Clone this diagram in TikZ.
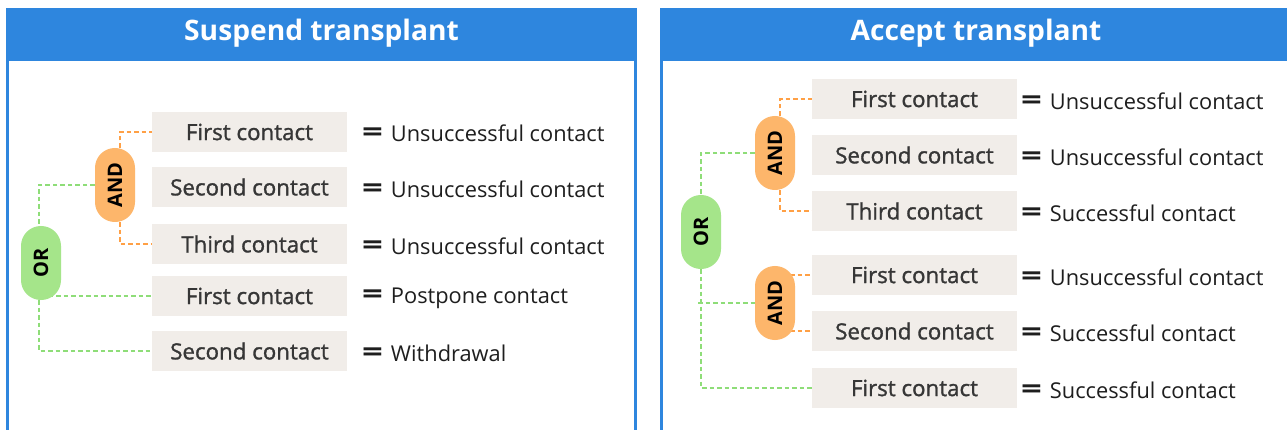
\documentclass[tikz,border=0pt]{standalone}
\usepackage{fontspec}
\setmainfont{Open Sans}
\newfontfamily\semifont[FakeBold=1.3]{Open Sans}
\pgfdeclarelayer{back}
\pgfdeclarelayer{background}
\pgfsetlayers{back,background,main}

\definecolor{panelblue}{HTML}{2E86DE}
\definecolor{boxfill}{HTML}{F1EDE9}
\definecolor{andfill}{HTML}{FDB66B}
\definecolor{orfill}{HTML}{A5E58A}
\definecolor{andline}{HTML}{FFA045}
\definecolor{orline}{HTML}{8EDD78}
\definecolor{boxtext}{HTML}{363636}
\definecolor{restext}{HTML}{1E1E1E}

\tikzset{
  panel/.style={draw=panelblue, line width=3pt, fill=white},
  header/.style={fill=panelblue},
  title/.style={text=white, font=\bfseries\fontsize{28.2}{32}\selectfont},
  cbox/.style={fill=boxfill, minimum width=195pt, minimum height=40pt, inner sep=0pt,
    text=boxtext, font=\semifont\fontsize{22.3}{24}\selectfont},
  wbox/.style={cbox, minimum width=205pt},
  res/.style={anchor=west, inner sep=0pt, text=restext, font=\fontsize{21.8}{24}\selectfont},
  pill/.style={minimum width=40pt, minimum height=74pt, inner sep=0pt,
    rounded corners=19.9pt, font=\bfseries\fontsize{20}{22}\selectfont, text=black},
  andpill/.style={pill, fill=andfill},
  orpill/.style={pill, fill=orfill},
  odash/.style={draw=andline, line width=1.3pt, dash pattern=on 4.5pt off 3pt},
  gdash/.style={draw=orline, line width=1.3pt, dash pattern=on 4.5pt off 3pt},
}
\newcommand{\eqres}[1]{\raisebox{-0.5pt}{\scalebox{1.4}[1.05]{\bfseries\fontsize{26}{26}\selectfont =}}\hspace{8pt}#1}

\begin{document}
\begin{tikzpicture}[x=1pt, y=-1pt]
\useasboundingbox (0,0) rectangle (1287,430);
\clip (0,0) rectangle (1287,430);

% ---- panels ----
\begin{pgfonlayer}{back}
\draw[panel] (7.5,9.5) rectangle (635.5,445);
\fill[header] (6,8) rectangle (637,61);
\draw[panel] (661.5,9.5) rectangle (1295,445);
\fill[header] (660,8) rectangle (1297,61);
\end{pgfonlayer}
\node[title] (ltitle) at (321.5,33) {Suspend transplant};
\node[title] (rtitle) at (976,33) {Accept transplant};

% ---- left panel: suspend ----
\node[cbox] (l1) at (249.5,132) {First contact};
\node[cbox] (l2) at (249.5,187) {Second contact};
\node[cbox] (l3) at (249.5,244) {Third contact};
\node[cbox] (l4) at (249.5,296) {First contact};
\node[cbox] (l5) at (249.5,351) {Second contact};

\node[res] (lr1) at (362,133) {\eqres{Unsuccessful contact}};
\node[res] (lr2) at (362,189) {\eqres{Unsuccessful contact}};
\node[res] (lr3) at (362,246) {\eqres{Unsuccessful contact}};
\node[res] (lr4) at (362,298) {\eqres{Postpone contact}};
\node[res] (lr5) at (362,353) {\eqres{Withdrawal}};

\node[andpill] (land) at (115,185) {\rotatebox{90}{AND}};
\node[orpill] (lor) at (41,263) {\rotatebox{90}{OR}};

\begin{pgfonlayer}{background}
\draw[odash] ([xshift=5pt]land.north) |- (l1.west);
\draw[odash] ([xshift=5pt]land.south) |- (l3.west);
\draw[gdash] (land.west) -| ([xshift=-2pt]lor.north);
\draw[gdash] (lor.center |- l4.west) -- (l4.west);
\draw[gdash] ([xshift=-2pt]lor.south) |- (l5.west);
\end{pgfonlayer}

% ---- right panel: accept ----
\node[wbox] (b1) at (914.5,99) {First contact};
\node[wbox] (b2) at (914.5,155) {Second contact};
\node[wbox] (b3) at (914.5,211) {Third contact};
\node[wbox] (b4) at (914.5,275) {First contact};
\node[wbox] (b5) at (914.5,331) {Second contact};
\node[wbox] (b6) at (914.5,388) {First contact};

\node[res] (rr1) at (1021,101) {\eqres{Unsuccessful contact}};
\node[res] (rr2) at (1021,157) {\eqres{Unsuccessful contact}};
\node[res] (rr3) at (1021,213) {\eqres{Successful contact}};
\node[res] (rr4) at (1021,277) {\eqres{Unsuccessful contact}};
\node[res] (rr5) at (1021,333) {\eqres{Successful contact}};
\node[res] (rr6) at (1021,390) {\eqres{Successful contact}};

\node[andpill] (rand1) at (775,153) {\rotatebox{90}{AND}};
\node[orpill] (ror) at (701,232) {\rotatebox{90}{OR}};
\node[andpill] (rand2) at (775,303) {\rotatebox{90}{AND}};

\begin{pgfonlayer}{background}
\draw[odash] ([xshift=5pt]rand1.north) |- (b1.west);
\draw[odash] ([xshift=5pt]rand1.south) |- (b3.west);
\draw[gdash] (rand1.west) -| (ror.north);
\draw[gdash] (ror.south) |- (b6.west);
\draw[gdash] ([xshift=-3pt]ror.south |- rand2.west) -- (rand2.west);
\draw[odash] (rand2.center |- b4.west) -- (b4.west);
\draw[odash] (rand2.center |- b5.west) -- (b5.west);
\end{pgfonlayer}
\end{tikzpicture}
\end{document}
